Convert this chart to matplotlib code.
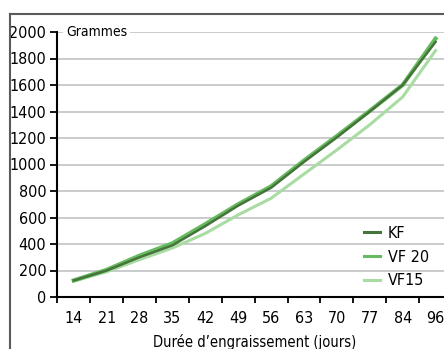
import matplotlib
matplotlib.use("Agg")
import matplotlib.pyplot as plt
from matplotlib.lines import Line2D
import matplotlib.font_manager as fm

days = ["14", "21", "28", "35", "42", "49", "56", "63", "70", "77", "84", "96"]
kf = [125, 200, 300, 390, 535, 690, 825, 1020, 1205, 1400, 1600, 1925]
vf20 = [125, 205, 312, 405, 550, 700, 835, 1030, 1215, 1405, 1600, 1950]
vf15 = [120, 190, 282, 370, 480, 620, 745, 928, 1110, 1300, 1510, 1860]
series_names = ["KF", "VF 20", "VF15"]
yticks = [0, 200, 400, 600, 800, 1000, 1200, 1400, 1600, 1800, 2000]
ylabel = "Grammes"
xlabel = "Durée d\u2019engraissement (jours)"

# pick an upright, regular-weight condensed font if one is available
cands = []
for f in fm.fontManager.ttflist:
    st = str(f.stretch).lower()
    nm = f.name.lower()
    fn = f.fname.lower()
    if f.style != "normal" or f.weight not in (400, "normal", "regular"):
        continue
    if "oblique" in fn or "italic" in fn or "bold" in fn:
        continue
    if ("narrow" in nm or "condensed" in nm or "condensed" in fn or "narrow" in fn
            or "condensed" in st or st in ("500",)):
        cands.append(f)
cands.sort(key=lambda f: (0 if "Liberation" in f.name else 1 if f.name == "DejaVu Sans" else 2,
                          "semi" in str(f.stretch).lower()))
fname = cands[0].fname if cands else None

def F(size):
    if fname:
        return fm.FontProperties(fname=fname, size=size)
    return fm.FontProperties(family="DejaVu Sans", size=size)

W, H = 444, 349
fig = plt.figure(figsize=(W / 100, H / 100), dpi=100)
left, right, bottom, top = 57.3, 452, 297, 32
ax = fig.add_axes([left / W, 1 - bottom / H, (right - left) / W, (bottom - top) / H])

x = list(range(len(days)))
ax.plot(x, vf15, color="#a9dca3", lw=2.2, label=series_names[2], zorder=3)
ax.plot(x, vf20, color="#66bb5e", lw=3.0, label=series_names[1], zorder=4)
ax.plot(x, kf, color="#46743c", lw=1.8, label=series_names[0], zorder=5)

ax.set_xlim(-0.5, len(days) - 0.5)
ax.set_ylim(0, 2000)
ax.set_yticks(yticks)
ax.set_yticklabels([str(v) for v in yticks], fontproperties=F(11.5))
ax.yaxis.grid(True, color="#c0c2c5", lw=1.2)
ax.set_axisbelow(True)

ax.set_xticks([i - 0.5 for i in range(len(days) + 1)])
ax.set_xticklabels([])
ax.set_xticks(x, minor=True)
ax.set_xticklabels(days, minor=True, fontproperties=F(11.5))
ax.tick_params(axis="x", which="minor", length=0, pad=10)
ax.tick_params(axis="x", which="major", direction="out", length=4, width=1.3)
ax.tick_params(axis="y", direction="out", length=5, width=1.3, pad=3)

for s in ["top", "right"]:
    ax.spines[s].set_visible(False)
for s in ["left", "bottom"]:
    ax.spines[s].set_linewidth(1.5)
    ax.spines[s].set_color("black")

ax.text(0.022, 2000, ylabel, transform=ax.get_yaxis_transform(), fontproperties=F(10),
        va="center", ha="left",
        bbox=dict(facecolor="white", edgecolor="none", pad=2))

ax.set_xlabel(xlabel, fontproperties=F(10.5), labelpad=6)

h, l = ax.get_legend_handles_labels()
order = [2, 1, 0]
leg = fig.legend([Line2D([], [], color=h[i].get_color(), lw=2.2) for i in order],
                 [l[i] for i in order], loc="center left",
                 bbox_to_anchor=(364 / W, 1 - 257 / H), frameon=False, prop=F(11.5),
                 handlelength=1.0, handletextpad=0.5, labelspacing=0.55, borderpad=0,
                 borderaxespad=0)

# outer frame (left and top)
fx = 10 / W
fy = 1 - 13.7 / H
fig.add_artist(Line2D([fx, fx], [0, fy], transform=fig.transFigure, color="#5a5a5a", lw=1.5))
fig.add_artist(Line2D([fx, 1], [fy, fy], transform=fig.transFigure, color="#5a5a5a", lw=1.5))

fig.savefig("out.png", dpi=100)
